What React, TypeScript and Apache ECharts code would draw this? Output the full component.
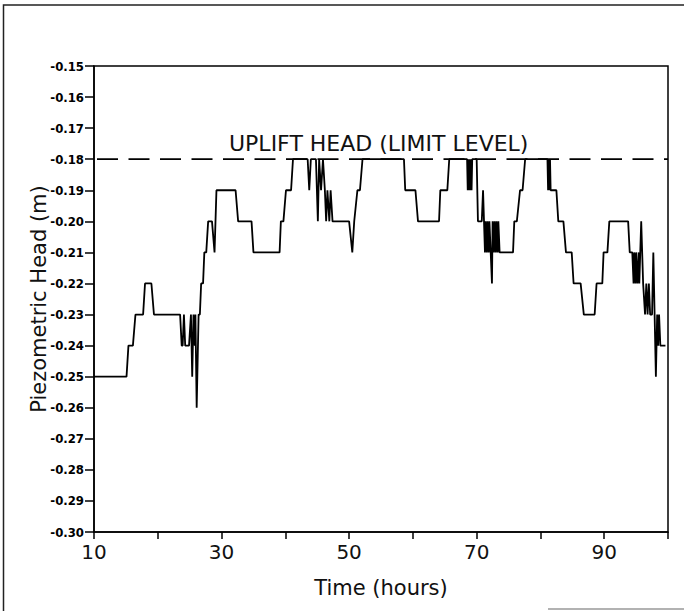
import React, { useEffect, useRef } from "react";
import * as echarts from "echarts";

// Time (hours) and piezometric head (m)
const timeHours: number[] = [
  10.0, 15.1, 15.4, 16.1, 16.5, 17.7, 18.0, 19.0, 19.4, 23.5,
  23.75, 23.9, 24.1, 24.3, 24.9, 25.2, 25.4, 25.6, 25.8, 25.9,
  26.1, 26.4, 26.6, 26.8, 27.1, 27.3, 27.6, 27.9, 28.5, 28.9,
  29.2, 32.2, 32.6, 34.7, 35.0, 39.1, 39.3, 39.7, 40.1, 40.9,
  41.2, 43.5, 43.75, 44.0, 44.8, 45.1, 45.3, 45.6, 45.9, 46.2,
  46.4, 46.6, 46.9, 47.1, 47.4, 50.0, 50.5, 50.8, 51.3, 51.7,
  52.1, 58.6, 58.8, 60.4, 60.8, 64.1, 64.3, 65.4, 65.7, 68.5,
  68.6, 68.7, 68.8, 68.9, 69.0, 69.1, 69.2, 69.3, 70.0, 70.2,
  70.8, 71.0, 71.1, 71.3, 71.4, 71.6, 71.7, 71.9, 72.0, 72.2,
  72.4, 72.5, 72.7, 72.8, 73.0, 73.1, 73.3, 73.4, 73.6, 75.7,
  75.9, 76.3, 76.8, 77.2, 77.6, 81.1, 81.2, 81.3, 81.4, 81.5,
  81.6, 82.5, 82.8, 83.6, 84.0, 84.9, 85.2, 86.3, 86.8, 88.5,
  88.8, 89.7, 89.9, 90.5, 90.8, 93.75, 94.0, 94.4, 94.6, 94.7,
  94.9, 95.0, 95.2, 95.4, 95.5, 95.8, 96.1, 96.4, 96.6, 96.8,
  97.0, 97.2, 97.5, 97.7, 98.1, 98.3, 98.45, 98.6, 98.8, 99.6,
];

const headM: number[] = [
  -0.25, -0.25, -0.24, -0.24, -0.23, -0.23, -0.22, -0.22, -0.23, -0.23,
  -0.24, -0.24, -0.23, -0.24, -0.24, -0.23, -0.25, -0.23, -0.24, -0.23,
  -0.26, -0.23, -0.23, -0.22, -0.22, -0.21, -0.21, -0.20, -0.20, -0.21,
  -0.19, -0.19, -0.20, -0.20, -0.21, -0.21, -0.20, -0.20, -0.19, -0.19,
  -0.18, -0.18, -0.19, -0.18, -0.18, -0.20, -0.18, -0.19, -0.18, -0.19,
  -0.20, -0.19, -0.20, -0.19, -0.20, -0.20, -0.21, -0.20, -0.19, -0.19,
  -0.18, -0.18, -0.19, -0.19, -0.20, -0.20, -0.19, -0.19, -0.18, -0.18,
  -0.19, -0.18, -0.19, -0.18, -0.19, -0.18, -0.19, -0.18, -0.18, -0.20,
  -0.20, -0.19, -0.19, -0.21, -0.20, -0.21, -0.20, -0.21, -0.20, -0.21,
  -0.22, -0.20, -0.21, -0.20, -0.21, -0.20, -0.21, -0.20, -0.21, -0.21,
  -0.20, -0.20, -0.19, -0.19, -0.18, -0.18, -0.19, -0.18, -0.19, -0.18,
  -0.19, -0.19, -0.20, -0.20, -0.21, -0.21, -0.22, -0.22, -0.23, -0.23,
  -0.22, -0.22, -0.21, -0.21, -0.20, -0.20, -0.21, -0.21, -0.22, -0.21,
  -0.22, -0.21, -0.22, -0.21, -0.22, -0.20, -0.22, -0.23, -0.22, -0.23,
  -0.22, -0.23, -0.23, -0.21, -0.25, -0.23, -0.24, -0.23, -0.24, -0.24,
];

const limitLevel = -0.18;
const limitLabel = "UPLIFT HEAD (LIMIT LEVEL)";
const xLabelValues: number[] = [10, 30, 50, 70, 90];
const xAxisName = "Time (hours)";
const yAxisName = "Piezometric Head (m)";

export default function App() {
  const ref = useRef<HTMLDivElement>(null);

  useEffect(() => {
    if (!ref.current) return;
    const chart = echarts.init(ref.current, null, { renderer: "svg" });
    const textFont = "'DejaVu Sans', sans-serif";
    const tickFont = "'Liberation Sans Narrow', 'DejaVu Sans Condensed', 'Liberation Sans', sans-serif";

    chart.setOption({
      animation: false,
      backgroundColor: "#ffffff",
      grid: {
        left: 94,
        top: 66,
        right: 16,
        bottom: 79,
        show: true,
        borderColor: "#000",
        borderWidth: 1.5,
        backgroundColor: "transparent",
      },
      xAxis: {
        type: "value",
        min: 10,
        max: 100,
        interval: 10,
        name: xAxisName,
        nameLocation: "middle",
        nameGap: 45,
        nameTextStyle: { color: "#111", fontFamily: textFont, fontSize: 21 },
        axisLine: { show: true, onZero: false, lineStyle: { color: "#000", width: 1.5 } },
        axisTick: { show: true, inside: false, length: 7, lineStyle: { color: "#000", width: 1.5 } },
        axisLabel: {
          color: "#111",
          fontFamily: textFont,
          fontSize: 20,
          margin: 10,
          formatter: (v: number) => (xLabelValues.includes(Math.round(v)) ? String(Math.round(v)) : ""),
        },
        splitLine: { show: false },
      },
      yAxis: {
        type: "value",
        min: -0.3,
        max: -0.15,
        interval: 0.01,
        name: yAxisName,
        nameLocation: "middle",
        nameGap: 45,
        nameMoveOverlap: false,
        nameRotate: 90,
        nameTextStyle: { color: "#111", fontFamily: textFont, fontSize: 21 },
        axisLine: { show: true, onZero: false, lineStyle: { color: "#000", width: 1.5 } },
        axisTick: { show: true, inside: false, length: 9, lineStyle: { color: "#000", width: 1.5 } },
        axisLabel: {
          color: "#000",
          fontFamily: tickFont,
          fontWeight: "bold",
          fontSize: 13,
          margin: 10,
          formatter: (v: number) => v.toFixed(2),
        },
        splitLine: { show: false },
      },
      series: [
        {
          type: "line",
          data: [
            [10, limitLevel],
            [100, limitLevel],
          ],
          showSymbol: false,
          silent: true,
          lineStyle: { color: "#000", width: 1.8, type: [21, 10.5], dashOffset: -3 },
          z: 2,
        },
        {
          type: "line",
          data: timeHours.map((t, i) => [t, headM[i]]),
          showSymbol: false,
          lineStyle: { color: "#000", width: 1.8 },
          z: 3,
        },
      ],
      graphic: [
        {
          type: "text",
          left: 229,
          top: 132,
          style: {
            text: limitLabel,
            fill: "#111",
            font: "22px 'DejaVu Sans', sans-serif",
          },
        },
        {
          type: "polyline",
          shape: { points: [[3.5, 611], [3.5, 5], [684, 5]] },
          style: { stroke: "#222", lineWidth: 1.5, fill: null },
          silent: true,
        },
        {
          type: "line",
          shape: { x1: 548, y1: 609, x2: 684, y2: 609 },
          style: { stroke: "#999", lineWidth: 1.5 },
          silent: true,
        },
      ],
    });

    return () => chart.dispose();
  }, []);

  return (
    <div
      ref={ref}
      style={{ position: "absolute", left: 0, top: 0, width: 684, height: 611, background: "#fff" }}
    />
  );
}
